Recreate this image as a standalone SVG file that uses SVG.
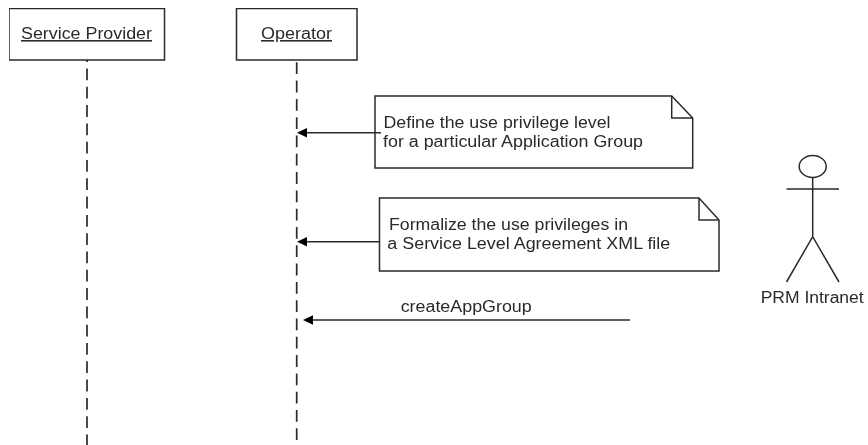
<svg xmlns="http://www.w3.org/2000/svg" width="868" height="445" viewBox="0 0 868 445">
<style>
text{font-family:"Liberation Sans",Arial,sans-serif;font-size:16px;fill:#2a2a2a}
.b{fill:#fff;stroke:#2a2a2a;stroke-width:1.5}
.f{fill:none;stroke:#2a2a2a;stroke-width:1.5}
.l{fill:none;stroke:#2a2a2a;stroke-width:1.7;stroke-dasharray:11.800 6.500}
.c{fill:none;stroke:#2a2a2a;stroke-width:1.4}
.h{fill:#000}
</style>
<defs><filter id="soft" x="0" y="0" width="100%" height="100%"><feGaussianBlur stdDeviation="0.45"/></filter></defs>
<rect width="868" height="445" fill="#fff"/>
<g filter="url(#soft)">
<g id="service-provider"><rect class="b" x="9" y="8.500" width="155.500" height="51.500"/><text x="21" y="39" text-decoration="underline" textLength="131" lengthAdjust="spacingAndGlyphs">Service Provider</text></g>
<g id="operator"><rect class="b" x="236.500" y="8.500" width="120.500" height="51.500"/><text x="261" y="39" text-decoration="underline" textLength="71" lengthAdjust="spacingAndGlyphs">Operator</text></g>
<g id="note-1"><path class="b" d="M375 96H671.700L692.700 118V168H375Z"/><path class="f" d="M671.700 96V118H692.700"/><text x="383.500" y="128" textLength="227" lengthAdjust="spacingAndGlyphs">Define the use privilege level</text><text x="383" y="147" textLength="260" lengthAdjust="spacingAndGlyphs">for a particular Application Group</text></g>
<g id="note-2"><path class="b" d="M379.500 198H699L719 220V271H379.500Z"/><path class="f" d="M699 198V220H719"/><text x="389" y="230" textLength="239" lengthAdjust="spacingAndGlyphs">Formalize the use privileges in</text><text x="387.300" y="249" textLength="283" lengthAdjust="spacingAndGlyphs">a Service Level Agreement XML file</text></g>
<g id="msg-label"><text x="400.700" y="312" textLength="131" lengthAdjust="spacingAndGlyphs">createAppGroup</text></g>
<g id="prm-intranet"><ellipse class="f" cx="812.700" cy="166.500" rx="13.500" ry="11"/><path class="f" d="M812.700 177.500V236.700M786.500 189H839M786.500 282L812.700 236.700L839 282"/><text x="760.700" y="303" textLength="103" lengthAdjust="spacingAndGlyphs">PRM Intranet</text></g>
<g id="connectors">
<path class="l" d="M87 60V445" stroke-dashoffset="9.800"/>
<path class="l" d="M296.700 62.300V440"/>
<path class="c" d="M381 132.700H306"/>
<path class="h" d="M297 132.700L307 128V137.400Z"/>
<path class="c" d="M380 241.700H306"/>
<path class="h" d="M297 241.700L307 237V246.400Z"/>
<path class="c" d="M630 320H312"/>
<path class="h" d="M303 320L313 315.300V324.700Z"/>
</g>
</g>
</svg>
